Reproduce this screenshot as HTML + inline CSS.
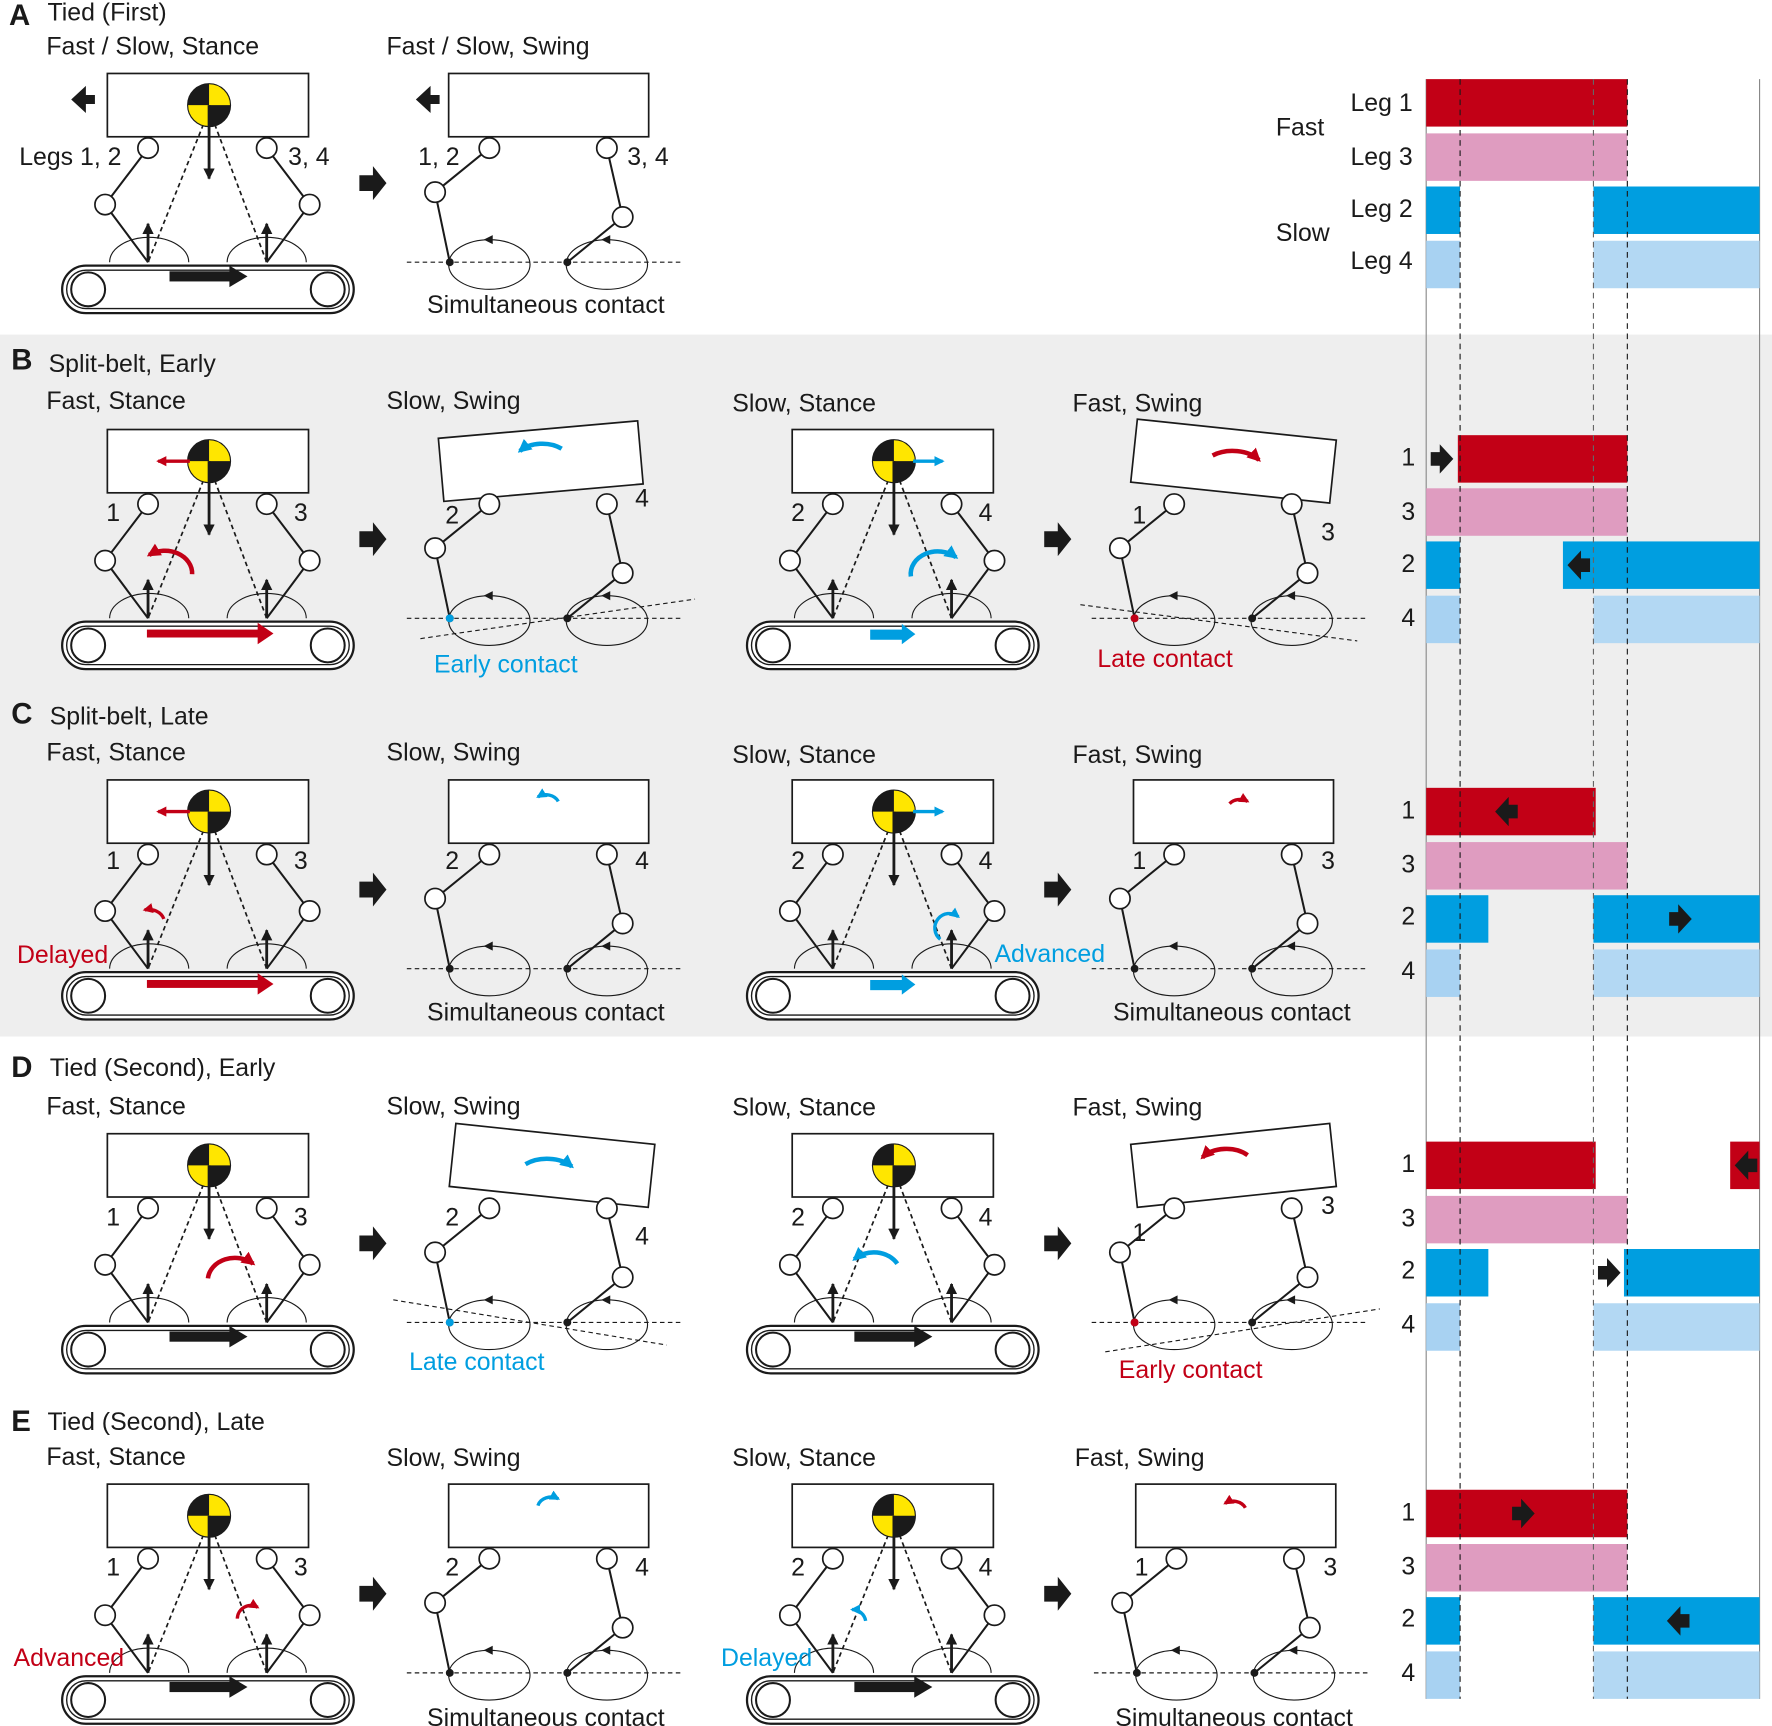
<!DOCTYPE html>
<html><head><meta charset="utf-8"><style>
html,body{margin:0;padding:0;background:#fff}
svg{display:block}
text{font-family:"Liberation Sans",Arial,sans-serif;fill:#1a1a1a;font-size:22px}
</style></head><body>
<svg width="1772" height="1726" viewBox="0 0 1568 1527" preserveAspectRatio="none" xmlns="http://www.w3.org/2000/svg">
<defs>
<marker id="ah" viewBox="0 0 10 10" refX="9" refY="5" markerWidth="4" markerHeight="4" orient="auto"><path d="M0,0L10,5L0,10z" fill="#1a1a1a"/></marker>
<marker id="ahr" viewBox="0 0 10 10" refX="8" refY="5" markerWidth="3" markerHeight="3" orient="auto"><path d="M0,0L10,5L0,10z" fill="#c20016"/></marker>
<marker id="ahb" viewBox="0 0 10 10" refX="8" refY="5" markerWidth="3" markerHeight="3" orient="auto"><path d="M0,0L10,5L0,10z" fill="#009ee0"/></marker>
<g id="st">
 <rect x="55" y="235" width="258" height="42" rx="21" fill="#fff" stroke="#1a1a1a" stroke-width="2"/>
 <rect x="59" y="239" width="250" height="34" rx="17" fill="none" stroke="#1a1a1a" stroke-width="1.2"/>
 <circle cx="78" cy="256" r="15" fill="#fff" stroke="#1a1a1a" stroke-width="1.8"/>
 <circle cx="290" cy="256" r="15" fill="#fff" stroke="#1a1a1a" stroke-width="1.8"/>
 <path d="M97,232A35,22 0 0 1 167,232M201,232A35,22 0 0 1 271,232" fill="none" stroke="#1a1a1a" stroke-width="1"/>
 <rect x="95" y="65" width="178" height="56" fill="#fff" stroke="#1a1a1a" stroke-width="1.5"/>
 <polyline points="131,131 93,181 131,232" fill="none" stroke="#1a1a1a" stroke-width="1.8"/>
 <polyline points="236,131 274,181 236,232" fill="none" stroke="#1a1a1a" stroke-width="1.8"/>
 <path d="M180,110L131,232M190,110L236,232" stroke="#1a1a1a" stroke-width="1.5" stroke-dasharray="4,3"/>
 <circle cx="131" cy="131" r="9" fill="#fff" stroke="#1a1a1a" stroke-width="1.5"/>
 <circle cx="236" cy="131" r="9" fill="#fff" stroke="#1a1a1a" stroke-width="1.5"/>
 <circle cx="93" cy="181" r="9" fill="#fff" stroke="#1a1a1a" stroke-width="1.5"/>
 <circle cx="274" cy="181" r="9" fill="#fff" stroke="#1a1a1a" stroke-width="1.5"/>
 <circle cx="185" cy="93" r="19" fill="#ffe600" stroke="#1a1a1a" stroke-width="1"/>
 <path d="M185,93L185,74A19,19 0 0 0 166,93z M185,93L185,112A19,19 0 0 0 204,93z" fill="#1a1a1a"/>
 <line x1="185" y1="93" x2="185" y2="158" stroke="#1a1a1a" stroke-width="2.5" marker-end="url(#ah)"/>
 <line x1="131" y1="232" x2="131" y2="198" stroke="#1a1a1a" stroke-width="2.5" marker-end="url(#ah)"/>
 <line x1="236" y1="232" x2="236" y2="198" stroke="#1a1a1a" stroke-width="2.5" marker-end="url(#ah)"/>
</g>
<g id="sw">
 <line x1="360" y1="232" x2="605" y2="232" stroke="#1a1a1a" stroke-width="1" stroke-dasharray="4,3"/>
 <ellipse cx="433" cy="234" rx="36" ry="22" fill="none" stroke="#1a1a1a" stroke-width="1"/>
 <ellipse cx="537" cy="234" rx="36" ry="22" fill="none" stroke="#1a1a1a" stroke-width="1"/>
 <path d="M428,212l8,-4v8z M532,212l8,-4v8z" fill="#1a1a1a"/>
 <polyline points="433,131 385,170 398,232" fill="none" stroke="#1a1a1a" stroke-width="1.8"/>
 <polyline points="537,131 551,192 502,232" fill="none" stroke="#1a1a1a" stroke-width="1.8"/>
 <circle cx="433" cy="131" r="9" fill="#fff" stroke="#1a1a1a" stroke-width="1.5"/>
 <circle cx="537" cy="131" r="9" fill="#fff" stroke="#1a1a1a" stroke-width="1.5"/>
 <circle cx="385" cy="170" r="9" fill="#fff" stroke="#1a1a1a" stroke-width="1.5"/>
 <circle cx="551" cy="192" r="9" fill="#fff" stroke="#1a1a1a" stroke-width="1.5"/>
 <circle cx="398" cy="232" r="3.5" fill="#1a1a1a"/>
 <circle cx="502" cy="232" r="3.5" fill="#1a1a1a"/>
</g>
<path id="arr" d="M318,155h12v-8l12,15l-12,15v-8h-12z" fill="#1a1a1a"/>
<path id="ra" d="M-10,-6h8v-7l12,13l-12,13v-7h-8z" fill="#1a1a1a"/>
<path id="la" d="M10,-6h-8v-7l-12,13l12,13v-7h8z" fill="#1a1a1a"/>
</defs>

<rect x="0" y="296" width="1568" height="621" fill="#eeeeee"/>

<line x1="1262" y1="70" x2="1262" y2="1503" stroke="#888" stroke-width="1"/>
<line x1="1557" y1="70" x2="1557" y2="1503" stroke="#888" stroke-width="1"/>

<!-- Row A -->
<text x="8" y="22" style="font-size:26px" font-weight="bold">A</text>
<text x="42" y="18">Tied (First)</text>
<text x="41" y="48">Fast / Slow, Stance</text>
<text x="342" y="48">Fast / Slow, Swing</text>
<use href="#st"/>
<rect x="150" y="240" width="55" height="9" fill="#1a1a1a"/><path d="M203,235l16,9.5l-16,9.5z" fill="#1a1a1a"/>
<path d="M84,84h-8v-8l-13,12l13,12v-8h8z" fill="#1a1a1a"/>
<path d="M389,84h-8v-8l-13,12l13,12v-8h8z" fill="#1a1a1a"/>
<text x="17" y="146">Legs 1, 2</text>
<text x="255" y="146">3, 4</text>
<rect x="397" y="65" width="177" height="56" fill="#fff" stroke="#1a1a1a" stroke-width="1.5"/>
<use href="#sw"/>
<text x="370" y="146">1, 2</text>
<text x="555" y="146">3, 4</text>
<use href="#arr"/>
<text x="483" y="277" text-anchor="middle">Simultaneous contact</text>
<text x="1129" y="120">Fast</text>
<text x="1129" y="213">Slow</text>
<text x="1195" y="98">Leg 1</text>
<text x="1195" y="146">Leg 3</text>
<text x="1195" y="192">Leg 2</text>
<text x="1195" y="238">Leg 4</text>
<rect x="1262" y="70" width="178" height="42" fill="#c20016"/>
<rect x="1262" y="118" width="178" height="42" fill="#df9cc0"/>
<rect x="1262" y="165" width="30" height="42" fill="#009ee0"/><rect x="1410" y="165" width="147" height="42" fill="#009ee0"/>
<rect x="1262" y="213" width="30" height="42" fill="#a8d2f2"/><rect x="1410" y="213" width="147" height="42" fill="#b3d8f3"/>

<!-- Row B -->
<text x="10" y="327" style="font-size:26px" font-weight="bold">B</text>
<text x="43" y="329">Split-belt, Early</text>
<text x="41" y="362">Fast, Stance</text>
<text x="342" y="362">Slow, Swing</text>
<text x="648" y="364">Slow, Stance</text>
<text x="949" y="364">Fast, Swing</text>
<g transform="translate(0,315)"><use href="#st"/>
 <rect x="130" y="242" width="100" height="7" fill="#c20016"/><path d="M228,236l14,9.5l-14,9.5z" fill="#c20016"/>
 <path d="M170,193A24,20 0 0 0 132,176" fill="none" stroke="#c20016" stroke-width="4" marker-end="url(#ahr)"/>
 <line x1="168" y1="93" x2="140" y2="93" stroke="#c20016" stroke-width="3" marker-end="url(#ahr)"/>
 <text x="94" y="146">1</text><text x="260" y="146">3</text>
 <rect x="390" y="65" width="177" height="56" fill="#fff" stroke="#1a1a1a" stroke-width="1.5" transform="rotate(-5 478 93)"/>
 <path d="M497,82A26,18 0 0 0 460,84" fill="none" stroke="#009ee0" stroke-width="4" marker-end="url(#ahb)"/>
 <use href="#sw"/>
 <circle cx="398" cy="232" r="3.5" fill="#009ee0"/>
 <line x1="372" y1="250" x2="615" y2="215" stroke="#1a1a1a" stroke-width="1" stroke-dasharray="4,3"/>
 <text x="394" y="148">2</text><text x="562" y="133">4</text>
 <use href="#arr"/>
 <g transform="translate(606,0)"><use href="#st"/>
  <rect x="164" y="242" width="30" height="9" fill="#009ee0"/><path d="M192,237l12,9l-12,9z" fill="#009ee0"/>
  <path d="M200,195A24,20 0 0 1 240,178" fill="none" stroke="#009ee0" stroke-width="4" marker-end="url(#ahb)"/>
  <line x1="202" y1="93" x2="228" y2="93" stroke="#009ee0" stroke-width="3" marker-end="url(#ahb)"/>
  <text x="94" y="146">2</text><text x="260" y="146">4</text>
 </g>
 <g transform="translate(606,0)">
  <rect x="397" y="65" width="177" height="56" fill="#fff" stroke="#1a1a1a" stroke-width="1.5" transform="rotate(6 486 93)"/>
  <path d="M467,88A28,18 0 0 1 508,92" fill="none" stroke="#c20016" stroke-width="4" marker-end="url(#ahr)"/>
  <use href="#sw"/>
  <circle cx="398" cy="232" r="3.5" fill="#c20016"/>
  <line x1="350" y1="220" x2="595" y2="252" stroke="#1a1a1a" stroke-width="1" stroke-dasharray="4,3"/>
  <text x="396" y="148">1</text><text x="563" y="163">3</text>
  <use href="#arr"/>
 </g>
</g>
<text x="384" y="595" style="fill:#009ee0">Early contact</text>
<text x="971" y="590" style="fill:#c20016">Late contact</text>
<text x="1240" y="412">1</text><text x="1240" y="460">3</text>
<text x="1240" y="506">2</text><text x="1240" y="554">4</text>
<rect x="1290" y="385" width="150" height="42" fill="#c20016"/>
<rect x="1262" y="432" width="178" height="42" fill="#df9cc0"/>
<rect x="1262" y="479" width="30" height="42" fill="#009ee0"/><rect x="1383" y="479" width="174" height="42" fill="#009ee0"/>
<rect x="1262" y="527" width="30" height="42" fill="#a8d2f2"/><rect x="1410" y="527" width="147" height="42" fill="#b3d8f3"/>
<use href="#ra" x="1276" y="406"/><use href="#la" x="1397" y="500"/>

<!-- Row C -->
<text x="10" y="640" style="font-size:26px" font-weight="bold">C</text>
<text x="44" y="641">Split-belt, Late</text>
<text x="41" y="673">Fast, Stance</text>
<text x="342" y="673">Slow, Swing</text>
<text x="648" y="675">Slow, Stance</text>
<text x="949" y="675">Fast, Swing</text>
<g transform="translate(0,625)"><use href="#st"/>
 <rect x="130" y="242" width="100" height="7" fill="#c20016"/><path d="M228,236l14,9.5l-14,9.5z" fill="#c20016"/>
 <path d="M145,188A14,12 0 0 0 128,180" fill="none" stroke="#c20016" stroke-width="3" marker-end="url(#ahr)"/>
 <line x1="168" y1="93" x2="140" y2="93" stroke="#c20016" stroke-width="3" marker-end="url(#ahr)"/>
 <text x="94" y="144">1</text><text x="260" y="144">3</text>
 <rect x="397" y="65" width="177" height="56" fill="#fff" stroke="#1a1a1a" stroke-width="1.5"/>
 <path d="M494,84A12,10 0 0 0 476,80" fill="none" stroke="#009ee0" stroke-width="3" marker-end="url(#ahb)"/>
 <use href="#sw"/>
 <text x="394" y="144">2</text><text x="562" y="144">4</text>
 <use href="#arr"/>
 <g transform="translate(606,0)"><use href="#st"/>
  <rect x="164" y="242" width="30" height="9" fill="#009ee0"/><path d="M192,237l12,9l-12,9z" fill="#009ee0"/>
  <path d="M226,206A12,12 0 0 1 242,186" fill="none" stroke="#009ee0" stroke-width="3" marker-end="url(#ahb)"/>
  <line x1="202" y1="93" x2="228" y2="93" stroke="#009ee0" stroke-width="3" marker-end="url(#ahb)"/>
  <text x="94" y="144">2</text><text x="260" y="144">4</text>
  <rect x="397" y="65" width="177" height="56" fill="#fff" stroke="#1a1a1a" stroke-width="1.5"/>
  <path d="M482,86A12,10 0 0 1 498,84" fill="none" stroke="#c20016" stroke-width="3" marker-end="url(#ahr)"/>
  <use href="#sw"/>
  <text x="396" y="144">1</text><text x="563" y="144">3</text>
  <use href="#arr"/>
 </g>
</g>
<text x="15" y="852" style="fill:#c20016">Delayed</text>
<text x="880" y="851" style="fill:#009ee0">Advanced</text>
<text x="483" y="903" text-anchor="middle">Simultaneous contact</text>
<text x="1090" y="903" text-anchor="middle">Simultaneous contact</text>
<text x="1240" y="724">1</text><text x="1240" y="772">3</text>
<text x="1240" y="818">2</text><text x="1240" y="866">4</text>
<rect x="1262" y="697" width="150" height="42" fill="#c20016"/>
<rect x="1262" y="745" width="178" height="42" fill="#df9cc0"/>
<rect x="1262" y="792" width="55" height="42" fill="#009ee0"/><rect x="1410" y="792" width="147" height="42" fill="#009ee0"/>
<rect x="1262" y="840" width="30" height="42" fill="#a8d2f2"/><rect x="1410" y="840" width="147" height="42" fill="#b3d8f3"/>
<use href="#la" x="1333" y="718"/><use href="#ra" x="1487" y="813"/>

<!-- Row D -->
<text x="10" y="953" style="font-size:26px" font-weight="bold">D</text>
<text x="44" y="952">Tied (Second), Early</text>
<text x="41" y="986">Fast, Stance</text>
<text x="342" y="986">Slow, Swing</text>
<text x="648" y="987">Slow, Stance</text>
<text x="949" y="987">Fast, Swing</text>
<g transform="translate(0,938)"><use href="#st"/>
 <rect x="150" y="240" width="55" height="9" fill="#1a1a1a"/><path d="M203,235l16,9.5l-16,9.5z" fill="#1a1a1a"/>
 <path d="M184,193A24,20 0 0 1 224,180" fill="none" stroke="#c20016" stroke-width="4" marker-end="url(#ahr)"/>
 <text x="94" y="146">1</text><text x="260" y="146">3</text>
 <rect x="400" y="65" width="177" height="56" fill="#fff" stroke="#1a1a1a" stroke-width="1.5" transform="rotate(6 488 93)"/>
 <path d="M465,92A28,18 0 0 1 506,94" fill="none" stroke="#009ee0" stroke-width="4" marker-end="url(#ahb)"/>
 <use href="#sw"/>
 <circle cx="398" cy="232" r="3.5" fill="#009ee0"/>
 <line x1="348" y1="212" x2="590" y2="252" stroke="#1a1a1a" stroke-width="1" stroke-dasharray="4,3"/>
 <text x="394" y="146">2</text><text x="562" y="163">4</text>
 <use href="#arr"/>
 <g transform="translate(606,0)"><use href="#st"/>
  <rect x="150" y="240" width="55" height="9" fill="#1a1a1a"/><path d="M203,235l16,9.5l-16,9.5z" fill="#1a1a1a"/>
  <path d="M188,180A24,20 0 0 0 150,176" fill="none" stroke="#009ee0" stroke-width="4" marker-end="url(#ahb)"/>
  <text x="94" y="146">2</text><text x="260" y="146">4</text>
  <rect x="397" y="65" width="177" height="56" fill="#fff" stroke="#1a1a1a" stroke-width="1.5" transform="rotate(-6 486 93)"/>
  <path d="M498,84A26,18 0 0 0 458,86" fill="none" stroke="#c20016" stroke-width="4" marker-end="url(#ahr)"/>
  <use href="#sw"/>
  <circle cx="398" cy="232" r="3.5" fill="#c20016"/>
  <line x1="372" y1="258" x2="615" y2="220" stroke="#1a1a1a" stroke-width="1" stroke-dasharray="4,3"/>
  <text x="396" y="160">1</text><text x="563" y="136">3</text>
  <use href="#arr"/>
 </g>
</g>
<text x="362" y="1212" style="fill:#009ee0">Late contact</text>
<text x="990" y="1219" style="fill:#c20016">Early contact</text>
<text x="1240" y="1037">1</text><text x="1240" y="1085">3</text>
<text x="1240" y="1131">2</text><text x="1240" y="1179">4</text>
<rect x="1262" y="1010" width="150" height="42" fill="#c20016"/><rect x="1531" y="1010" width="26" height="42" fill="#c20016"/>
<rect x="1262" y="1058" width="178" height="42" fill="#df9cc0"/>
<rect x="1262" y="1105" width="55" height="42" fill="#009ee0"/><rect x="1437" y="1105" width="120" height="42" fill="#009ee0"/>
<rect x="1262" y="1153" width="30" height="42" fill="#a8d2f2"/><rect x="1410" y="1153" width="147" height="42" fill="#b3d8f3"/>
<use href="#la" x="1545" y="1031"/><use href="#ra" x="1424" y="1126"/>

<!-- Row E -->
<text x="10" y="1266" style="font-size:26px" font-weight="bold">E</text>
<text x="42" y="1265">Tied (Second), Late</text>
<text x="41" y="1296">Fast, Stance</text>
<text x="342" y="1297">Slow, Swing</text>
<text x="648" y="1297">Slow, Stance</text>
<text x="951" y="1297">Fast, Swing</text>
<g transform="translate(0,1248)"><use href="#st"/>
 <rect x="150" y="240" width="55" height="9" fill="#1a1a1a"/><path d="M203,235l16,9.5l-16,9.5z" fill="#1a1a1a"/>
 <path d="M210,184A12,12 0 0 1 228,174" fill="none" stroke="#c20016" stroke-width="3" marker-end="url(#ahr)"/>
 <text x="94" y="146">1</text><text x="260" y="146">3</text>
 <rect x="397" y="65" width="177" height="56" fill="#fff" stroke="#1a1a1a" stroke-width="1.5"/>
 <path d="M476,84A12,10 0 0 1 494,78" fill="none" stroke="#009ee0" stroke-width="3" marker-end="url(#ahb)"/>
 <use href="#sw"/>
 <text x="394" y="146">2</text><text x="562" y="146">4</text>
 <use href="#arr"/>
 <g transform="translate(606,0)"><use href="#st"/>
  <rect x="150" y="240" width="55" height="9" fill="#1a1a1a"/><path d="M203,235l16,9.5l-16,9.5z" fill="#1a1a1a"/>
  <path d="M160,186A12,12 0 0 0 148,176" fill="none" stroke="#009ee0" stroke-width="3" marker-end="url(#ahb)"/>
  <text x="94" y="146">2</text><text x="260" y="146">4</text>
  <rect x="399" y="65" width="177" height="56" fill="#fff" stroke="#1a1a1a" stroke-width="1.5"/>
  <path d="M496,86A12,10 0 0 0 478,82" fill="none" stroke="#c20016" stroke-width="3" marker-end="url(#ahr)"/>
  <use href="#sw" x="2"/>
  <text x="398" y="146">1</text><text x="565" y="146">3</text>
  <use href="#arr"/>
 </g>
</g>
<text x="12" y="1474" style="fill:#c20016">Advanced</text>
<text x="638" y="1474" style="fill:#009ee0">Delayed</text>
<text x="483" y="1527" text-anchor="middle">Simultaneous contact</text>
<text x="1092" y="1527" text-anchor="middle">Simultaneous contact</text>
<text x="1240" y="1345">1</text><text x="1240" y="1393">3</text>
<text x="1240" y="1439">2</text><text x="1240" y="1487">4</text>
<rect x="1262" y="1318" width="178" height="42" fill="#c20016"/>
<rect x="1262" y="1366" width="178" height="42" fill="#df9cc0"/>
<rect x="1262" y="1413" width="30" height="42" fill="#009ee0"/><rect x="1410" y="1413" width="147" height="42" fill="#009ee0"/>
<rect x="1262" y="1461" width="30" height="42" fill="#a8d2f2"/><rect x="1410" y="1461" width="147" height="42" fill="#b3d8f3"/>
<use href="#ra" x="1348" y="1339"/><use href="#la" x="1485" y="1434"/>

<g stroke="#1a1a1a" stroke-width="1" stroke-dasharray="5,4">
<line x1="1292" y1="70" x2="1292" y2="1503"/>
<line x1="1410" y1="70" x2="1410" y2="1503" stroke="#666"/>
<line x1="1440" y1="70" x2="1440" y2="1503"/>
</g>
</svg>
</body></html>
